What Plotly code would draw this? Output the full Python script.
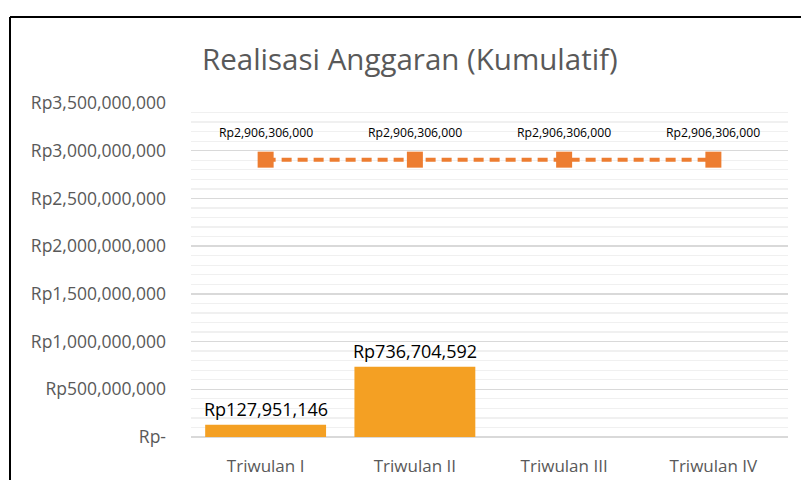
import plotly.graph_objects as go

categories = ["Triwulan I", "Triwulan II", "Triwulan III", "Triwulan IV"]
realisasi = [127951146, 736704592, None, None]
anggaran = [2906306000, 2906306000, 2906306000, 2906306000]
y_ticks = [0, 500000000, 1000000000, 1500000000, 2000000000, 2500000000, 3000000000, 3500000000]
y_tick_labels = ["Rp-", "Rp500,000,000", "Rp1,000,000,000", "Rp1,500,000,000",
                 "Rp2,000,000,000", "Rp2,500,000,000", "Rp3,000,000,000", "Rp3,500,000,000"]
title = "Realisasi Anggaran (Kumulatif)"

FONT = "Open Sans"
W, H = 801, 489
L, R, T, B = 191, 13, 103, 44
pw, ph = W - L - R, H - T - B


def rp(v):
    return "Rp{:,}".format(int(v))


fig = go.Figure()
fig.add_trace(go.Bar(
    x=categories, y=realisasi, marker=dict(color="#F4A023", line=dict(width=0)),
    hoverinfo="skip", showlegend=False,
))
fig.add_trace(go.Scatter(
    x=categories, y=anggaran, mode="lines+markers",
    line=dict(color="#ED7D31", width=4, dash="10px,6px"),
    marker=dict(symbol="square", size=16, color="#ED7D31"),
    hoverinfo="skip", showlegend=False,
))

annotations = []
for c, v in zip(categories, realisasi):
    if v is not None:
        annotations.append(dict(x=c, y=v, xref="x", yref="y", text=rp(v), showarrow=False,
                                yanchor="bottom", yshift=2,
                                font=dict(family=FONT, size=18, color="#000000")))
for c, v in zip(categories, anggaran):
    annotations.append(dict(x=c, y=v, xref="x", yref="y", text=rp(v), showarrow=False,
                            yanchor="middle", yshift=27,
                            font=dict(family=FONT, size=12.2, color="#000000")))
annotations.append(dict(x=(410 - L) / pw, y=(T + ph - 57) / ph, xref="paper", yref="paper",
                        text=title, showarrow=False, xanchor="center", yanchor="middle",
                        font=dict(family=FONT, size=29.5, color="#595959")))

fig.update_layout(
    width=W, height=H,
    margin=dict(l=L, r=R, t=T, b=B, pad=0),
    paper_bgcolor="white", plot_bgcolor="white",
    bargap=0.19,
    annotations=annotations,
    shapes=[
        dict(type="line", xref="paper", yref="paper",
             x0=(10 - L) / pw, x1=(10 - L) / pw, y0=-B / ph, y1=(T + ph - 15) / ph,
             line=dict(color="#000000", width=2), layer="above"),
        dict(type="line", xref="paper", yref="paper",
             x0=(10 - L) / pw, x1=(W - L) / pw, y0=(T + ph - 15) / ph, y1=(T + ph - 15) / ph,
             line=dict(color="#000000", width=2), layer="above"),
    ],
    xaxis=dict(showgrid=False, showline=False, ticks="", ticklabelstandoff=17,
               tickfont=dict(family=FONT, size=17, color="#595959"), fixedrange=True),
    yaxis=dict(range=[0, 3500000000], tickvals=y_ticks, ticktext=y_tick_labels,
               showgrid=True, gridcolor="#D9D9D9", gridwidth=1.3,
               zeroline=True, zerolinecolor="#D9D9D9", zerolinewidth=1.3,
               minor=dict(dtick=100000000, showgrid=True, gridcolor="#F0F0F0", gridwidth=1.3, tick0=0),
               ticks="", ticklabelstandoff=24, showline=False,
               tickfont=dict(family=FONT, size=17.5, color="#595959"), fixedrange=True),
)

fig.write_html("out.html", config={"displayModeBar": False, "staticPlot": True})

with open("out.html", "r", encoding="utf-8") as f:
    html = f.read()
html = html.replace("<head>", "<head><style>html,body{margin:0;padding:0;overflow:hidden;}</style>", 1)
with open("out.html", "w", encoding="utf-8") as f:
    f.write(html)
